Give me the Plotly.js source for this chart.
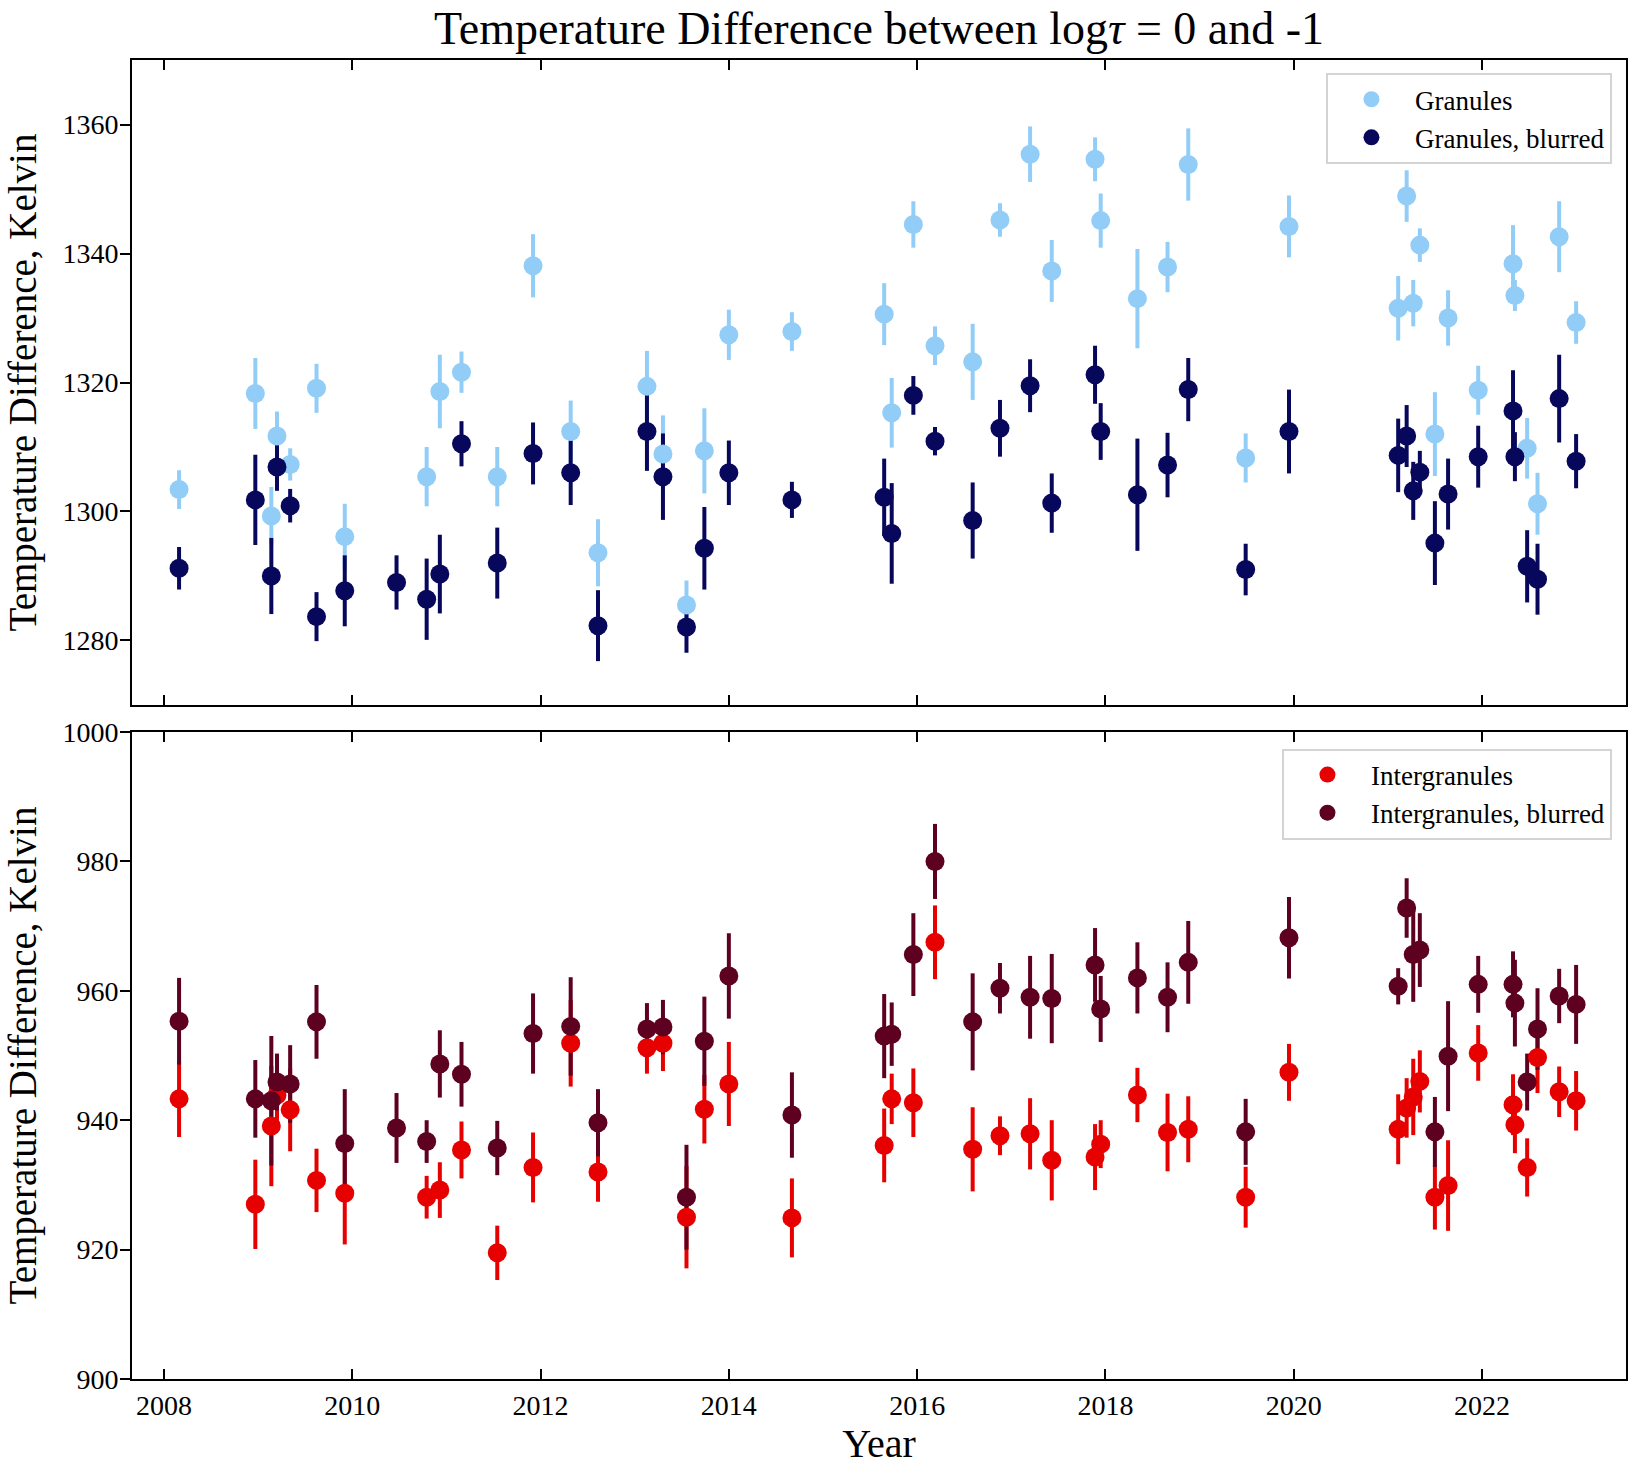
<!DOCTYPE html>
<html>
<head>
<meta charset="utf-8">
<script src="https://cdn.plot.ly/plotly-3.0.1.min.js"></script>
<style>
  body { margin: 0; background: white; }
</style>
</head>
<body>
<div id="plotlyDiv" style="width:1635px;height:1471px;"></div>
<script>
// observation dates (decimal year)
var years = [2008.16, 2008.97, 2009.14, 2009.20, 2009.34, 2009.62, 2009.92, 2010.47, 2010.79, 2010.93,
             2011.16, 2011.54, 2011.92, 2012.32, 2012.61, 2013.13, 2013.30, 2013.55, 2013.74, 2014.00,
             2014.67, 2015.65, 2015.73, 2015.96, 2016.19, 2016.59, 2016.88, 2017.20, 2017.43, 2017.89,
             2017.95, 2018.34, 2018.66, 2018.88, 2019.49, 2019.95, 2021.11, 2021.20, 2021.27, 2021.34,
             2021.50, 2021.64, 2021.96, 2022.33, 2022.35, 2022.48, 2022.59, 2022.82, 2023.00];

var granules = [1303.4, 1318.3, 1299.3, 1311.7, 1307.3, 1319.1, 1296.1, null, 1305.4, 1318.6,
                1321.6, 1305.4, 1338.1, 1312.4, 1293.6, 1319.4, 1308.9, 1285.5, 1309.4, 1327.4,
                1327.9, 1330.6, 1315.3, 1344.5, 1325.7, 1323.2, 1345.2, 1355.4, 1337.3, 1354.6,
                1345.1, 1333.0, 1337.9, 1353.8, 1308.3, 1344.2, 1331.5, 1348.9, 1332.3, 1341.3,
                1312.0, 1330.0, 1318.8, 1338.4, 1333.5, 1309.8, 1301.2, 1342.6, 1329.3];
var granulesErr = [3.0, 5.5, 4.5, 3.8, 2.5, 3.8, 5.1, null, 4.6, 5.7,
                   3.2, 4.6, 4.9, 4.8, 5.2, 5.5, 6.0, 3.8, 6.6, 3.9,
                   3.0, 4.8, 5.4, 3.6, 3.0, 5.9, 2.6, 4.3, 4.8, 3.4,
                   4.2, 7.7, 3.9, 5.6, 3.8, 4.8, 5.0, 4.0, 3.6, 2.6,
                   6.5, 4.3, 3.8, 6.0, 2.4, 4.7, 4.8, 5.5, 3.3];

var granulesBlur = [1291.2, 1301.8, 1290.0, 1306.9, 1300.9, 1283.7, 1287.7, 1289.0, 1286.4, 1290.3,
                    1310.5, 1292.0, 1309.0, 1306.0, 1282.3, 1312.4, 1305.4, 1282.1, 1294.3, 1306.0,
                    1301.8, 1302.2, 1296.6, 1318.0, 1310.9, 1298.6, 1312.9, 1319.5, 1301.3, 1321.2,
                    1312.4, 1302.6, 1307.2, 1318.9, 1291.0, 1312.4, 1308.7, 1311.7, 1303.2, 1306.1,
                    1295.1, 1302.7, 1308.5, 1315.6, 1308.5, 1291.5, 1289.5, 1317.5, 1307.8];
var granulesBlurErr = [3.3, 7.0, 5.9, 3.7, 2.6, 3.8, 5.5, 4.2, 6.3, 6.1,
                       3.5, 5.5, 4.8, 5.0, 5.5, 6.1, 6.7, 4.0, 6.4, 5.0,
                       2.8, 6.0, 7.8, 3.0, 2.2, 5.9, 4.4, 4.1, 4.6, 4.5,
                       4.4, 8.7, 5.0, 4.9, 4.0, 6.5, 5.7, 4.8, 4.5, 3.3,
                       6.5, 5.5, 4.8, 6.3, 3.8, 5.6, 5.5, 6.8, 4.2];

var inter = [943.3, 927.0, 939.1, 943.9, 941.6, 930.7, 928.7, null, 928.1, 929.2,
             935.4, 919.5, 932.7, 951.9, 932.0, 951.2, 951.9, 925.0, 941.7, 945.6,
             924.9, 936.1, 943.3, 942.7, 967.5, 935.5, 937.6, 937.9, 933.8, 934.3,
             936.3, 943.9, 938.1, 938.6, 928.1, 947.4, 938.6, 941.9, 943.6, 946.0,
             928.1, 929.9, 950.4, 942.4, 939.3, 932.7, 949.7, 944.4, 943.0];
var interErr = [5.9, 6.9, 9.3, 4.0, 6.4, 4.9, 7.9, null, 3.3, 4.3,
                4.4, 4.2, 5.4, 6.7, 4.6, 4.0, 4.3, 7.9, 5.3, 6.5,
                6.1, 5.7, 3.9, 5.3, 5.7, 6.5, 3.0, 5.5, 6.2, 5.1,
                3.7, 4.2, 6.0, 5.1, 4.7, 4.4, 5.4, 4.6, 5.9, 4.8,
                5.0, 7.0, 4.3, 4.7, 4.4, 4.5, 5.5, 3.9, 4.6];

var interBlur = [955.3, 943.3, 943.0, 945.9, 945.6, 955.2, 936.4, 938.8, 936.7, 948.7,
                 947.1, 935.7, 953.4, 954.5, 939.6, 954.1, 954.4, 928.1, 952.2, 962.3,
                 940.8, 953.0, 953.3, 965.6, 980.0, 955.2, 960.4, 959.0, 958.8, 964.0,
                 957.2, 962.0, 959.0, 964.4, 938.2, 968.2, 960.7, 972.8, 965.6, 966.3,
                 938.2, 949.9, 961.0, 961.0, 958.1, 945.9, 954.1, 959.2, 957.9];
var interBlurErr = [6.7, 6.0, 10.0, 4.4, 6.0, 5.7, 8.4, 5.4, 3.3, 5.2,
                    5.0, 4.2, 6.2, 7.6, 5.2, 4.0, 4.2, 8.1, 6.9, 6.6,
                    6.6, 6.5, 4.9, 6.4, 5.8, 7.5, 3.9, 6.4, 6.9, 5.7,
                    5.1, 5.5, 5.4, 6.4, 5.1, 6.3, 2.8, 4.6, 7.3, 5.7,
                    5.4, 8.5, 4.4, 5.1, 6.7, 4.4, 6.3, 4.2, 6.1];

var yTicksTop = [1280, 1300, 1320, 1340, 1360];
var yTicksBottom = [900, 920, 940, 960, 980, 1000];
var xTicks = [2008, 2010, 2012, 2014, 2016, 2018, 2020, 2022];

function plot_temperature() {

    // error bars drawn first (under every marker), then markers on top
    function bars(y, err, color, xa, ya) {
        return {
            type: 'scatter', mode: 'markers', x: years, y: y, xaxis: xa, yaxis: ya,
            marker: {size: 19, opacity: 0},
            error_y: {type: 'data', array: err, visible: true, color: color, thickness: 4, width: 0},
            showlegend: false, hoverinfo: 'skip'
        };
    }
    function dots(y, color, name, xa, ya, leg) {
        return {
            type: 'scatter', mode: 'markers', x: years, y: y, xaxis: xa, yaxis: ya,
            name: name, legend: leg,
            marker: {size: 19, color: color}
        };
    }

    var c1 = '#92cdf8', c2 = '#07075c', c3 = '#e60000', c4 = '#5e0020';

    var data = [
        bars(granules, granulesErr, c1, 'x', 'y'),
        bars(granulesBlur, granulesBlurErr, c2, 'x', 'y'),
        dots(granules, c1, 'Granules', 'x', 'y', 'legend'),
        dots(granulesBlur, c2, 'Granules, blurred', 'x', 'y', 'legend'),
        bars(inter, interErr, c3, 'x2', 'y2'),
        bars(interBlur, interBlurErr, c4, 'x2', 'y2'),
        dots(inter, c3, 'Intergranules', 'x2', 'y2', 'legend2'),
        dots(interBlur, c4, 'Intergranules, blurred', 'x2', 'y2', 'legend2')
    ];

    var xax = {
        range: [2007.66, 2023.53],
        tickvals: xTicks,
        ticks: 'inside', ticklen: 10, tickwidth: 2, tickcolor: 'black',
        showline: true, linewidth: 2, linecolor: 'black', mirror: 'ticks',
        showgrid: false, zeroline: false, tickfont: {size: 28}
    };
    var yax = {
        ticks: 'outside', ticklen: 10, tickwidth: 2, tickcolor: 'black',
        showline: true, linewidth: 2, linecolor: 'black', mirror: true,
        showgrid: false, zeroline: false, ticklabelstandoff: -4, tickfont: {size: 28},
        title: {text: 'Temperature Difference, Kelvin', font: {size: 39}, standoff: 14}
    };
    var legendStyle = {
        xanchor: 'right', yanchor: 'top', x: 0.9906,
        bgcolor: 'rgba(255,255,255,0.8)', bordercolor: '#d4d4d4', borderwidth: 2,
        font: {size: 27}, itemwidth: 77, tracegroupgap: 0
    };

    var layout = {
        width: 1635, height: 1471,
        margin: {l: 132, r: 9, t: 60, b: 92},
        paper_bgcolor: 'white', plot_bgcolor: 'white',
        font: {family: 'Liberation Serif, Times New Roman, serif', size: 27, color: 'black'},
        title: {
            text: 'Temperature Difference between log<i>τ</i> = 0 and -1',
            font: {size: 46}, x: 0.5, xref: 'paper', y: 0.981, yanchor: 'middle'
        },
        xaxis: Object.assign({}, xax, {anchor: 'y', showticklabels: false}),
        xaxis2: Object.assign({}, xax, {anchor: 'y2',
            title: {text: 'Year', font: {size: 40}, standoff: 4}}),
        yaxis: Object.assign({}, yax, {anchor: 'x', domain: [0.511, 1], range: [1270, 1370], tickvals: yTicksTop}),
        yaxis2: Object.assign({}, yax, {anchor: 'x2', domain: [0, 0.4905], range: [900, 1000], tickvals: yTicksBottom}),
        legend: Object.assign({}, legendStyle, {y: 0.990}),
        legend2: Object.assign({}, legendStyle, {y: 0.478})
    };

    Plotly.newPlot('plotlyDiv', data, layout, {displayModeBar: false});
}

plot_temperature();
</script>
</body>
</html>
